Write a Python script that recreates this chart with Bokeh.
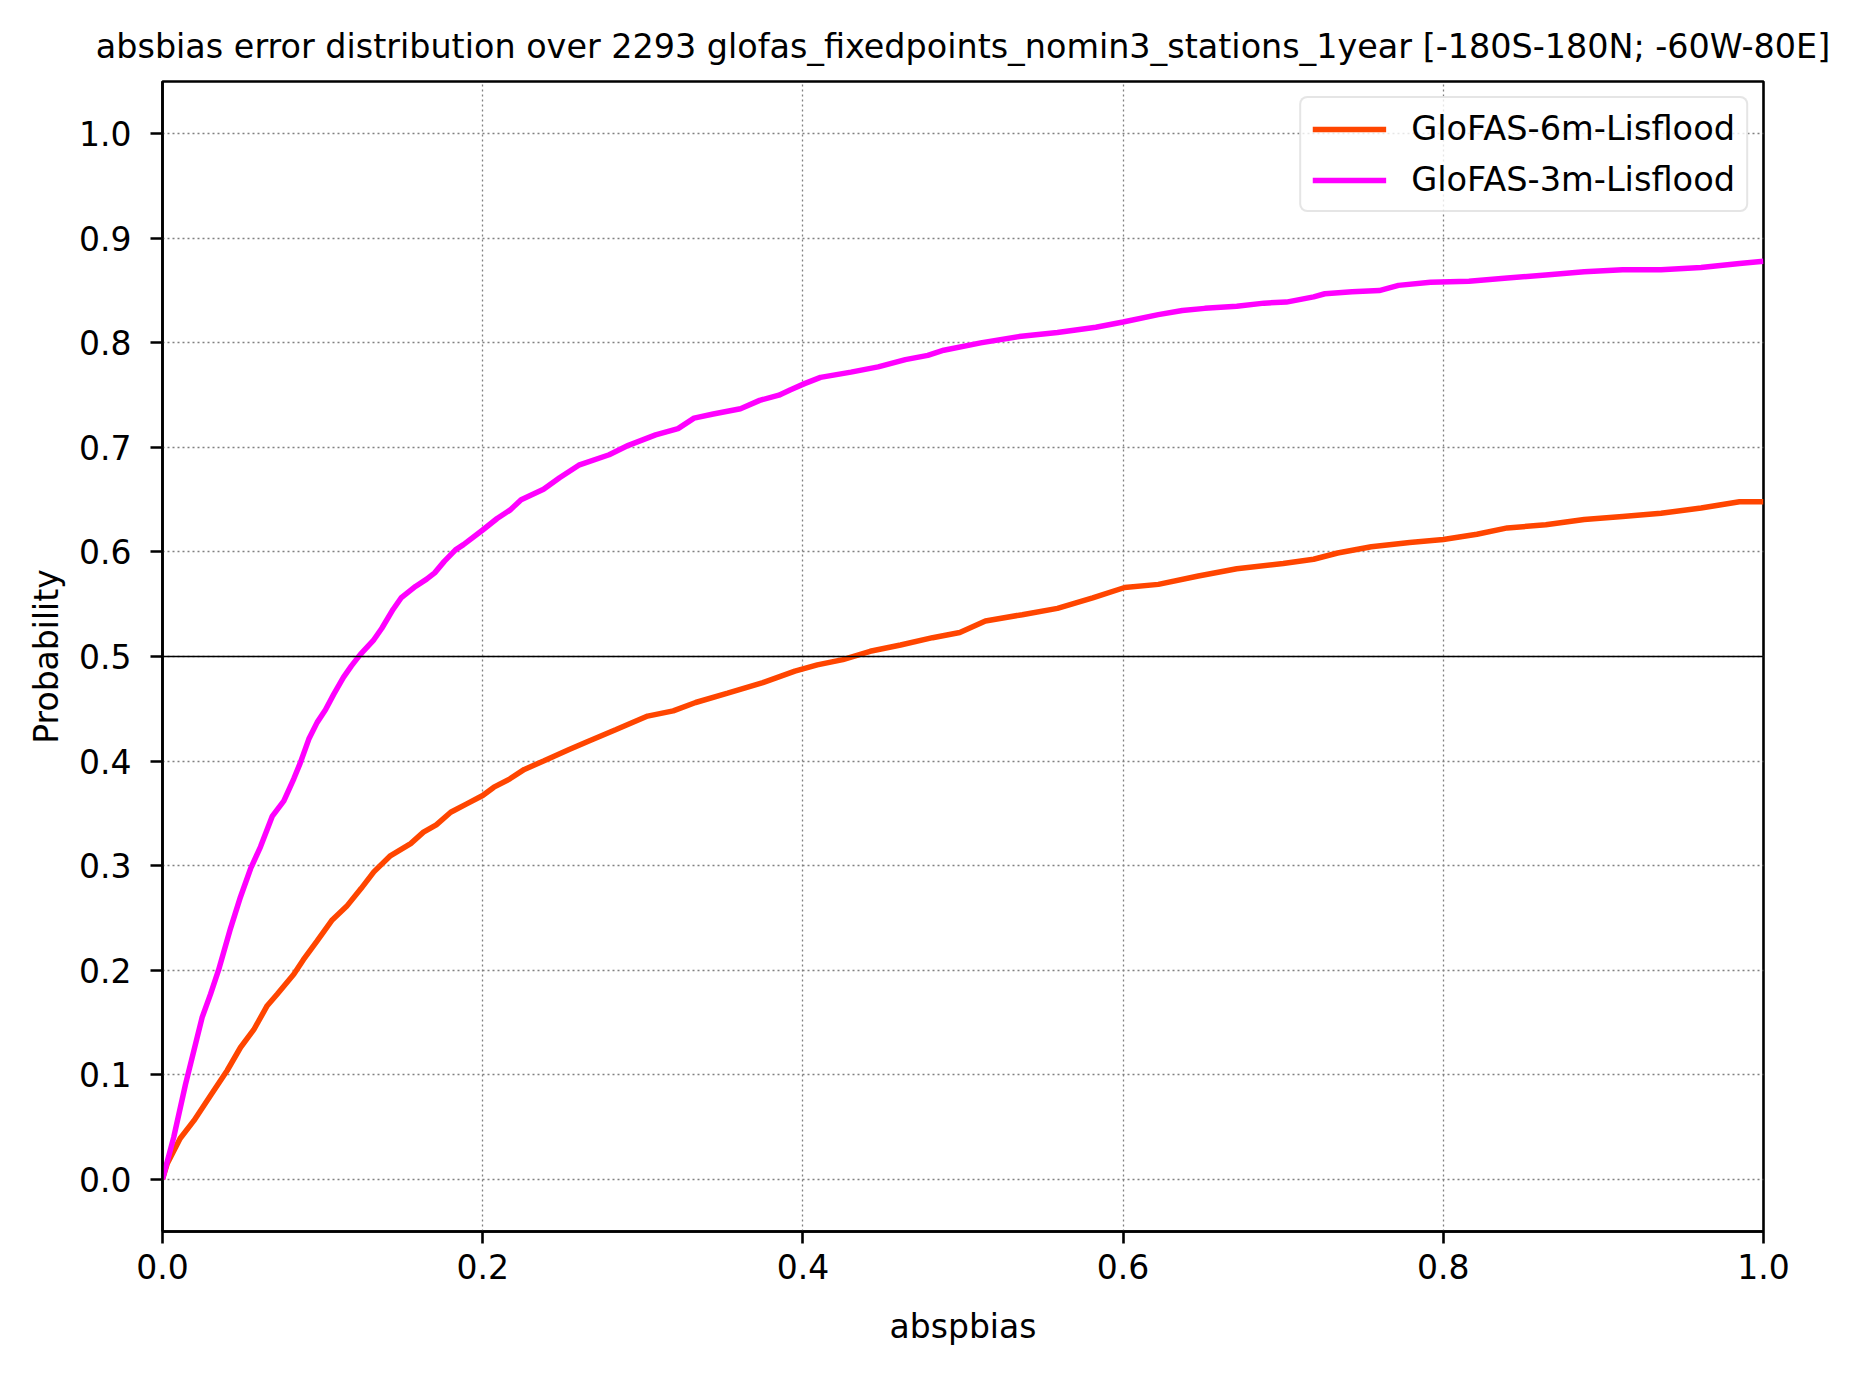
from bokeh.plotting import figure
from bokeh.models import Range1d, FixedTicker, Legend, LegendItem, Span, Title
from bokeh.embed import file_html
from bokeh.resources import INLINE

# ---------------- data ----------------
title_text = "absbias error distribution over 2293 glofas_fixedpoints_nomin3_stations_1year [-180S-180N; -60W-80E]"
x_label = "abspbias"
y_label = "Probability"

series_names = ["GloFAS-6m-Lisflood", "GloFAS-3m-Lisflood"]
series_colors = ["#FF4500", "#FF00FF"]

x_6m = [0, 0.003, 0.011, 0.0196, 0.030, 0.0404, 0.0487, 0.057, 0.0654, 0.0716,
        0.082, 0.088, 0.0966, 0.106, 0.115, 0.124, 0.132, 0.142, 0.155, 0.163,
        0.171, 0.180, 0.190, 0.200, 0.207, 0.217, 0.226, 0.238, 0.254, 0.266,
        0.283, 0.303, 0.319, 0.333, 0.353, 0.375, 0.395, 0.409, 0.425, 0.442,
        0.461, 0.481, 0.498, 0.514, 0.537, 0.559, 0.581, 0.601, 0.622, 0.647,
        0.671, 0.700, 0.719, 0.734, 0.755, 0.779, 0.800, 0.821, 0.840, 0.864,
        0.888, 0.912, 0.936, 0.961, 0.985, 1.0]
y_6m = [0, 0.015, 0.039, 0.056, 0.080, 0.104, 0.126, 0.143, 0.166, 0.177,
        0.196, 0.210, 0.228, 0.248, 0.261, 0.278, 0.294, 0.309, 0.321, 0.332,
        0.339, 0.351, 0.359, 0.367, 0.375, 0.383, 0.392, 0.400, 0.411, 0.419,
        0.430, 0.443, 0.448, 0.456, 0.465, 0.475, 0.486, 0.492, 0.497, 0.505,
        0.511, 0.518, 0.523, 0.534, 0.540, 0.546, 0.556, 0.566, 0.569, 0.577,
        0.584, 0.589, 0.593, 0.599, 0.605, 0.609, 0.612, 0.617, 0.623, 0.626,
        0.631, 0.634, 0.637, 0.642, 0.648, 0.648]

x_3m = [0, 0.007, 0.0144, 0.0196, 0.0248, 0.030, 0.035, 0.0425, 0.0487, 0.055,
        0.0612, 0.0685, 0.0758, 0.082, 0.086, 0.0914, 0.0966, 0.1018, 0.107, 0.113,
        0.118, 0.1236, 0.132, 0.137, 0.144, 0.149, 0.158, 0.165, 0.170, 0.176,
        0.183, 0.188, 0.200, 0.209, 0.217, 0.224, 0.238, 0.248, 0.260, 0.279,
        0.291, 0.308, 0.322, 0.332, 0.344, 0.361, 0.373, 0.385, 0.392, 0.401,
        0.411, 0.430, 0.447, 0.464, 0.478, 0.488, 0.511, 0.535, 0.559, 0.583,
        0.600, 0.622, 0.637, 0.651, 0.671, 0.688, 0.702, 0.719, 0.726, 0.743,
        0.760, 0.772, 0.792, 0.816, 0.840, 0.864, 0.888, 0.912, 0.936, 0.961,
        0.985, 1.0]
y_3m = [0, 0.040, 0.091, 0.123, 0.155, 0.177, 0.200, 0.240, 0.270, 0.297,
        0.318, 0.347, 0.362, 0.383, 0.398, 0.421, 0.437, 0.449, 0.464, 0.480,
        0.491, 0.502, 0.516, 0.527, 0.545, 0.556, 0.567, 0.574, 0.580, 0.591,
        0.602, 0.607, 0.621, 0.632, 0.640, 0.650, 0.660, 0.671, 0.683, 0.693,
        0.702, 0.712, 0.718, 0.728, 0.732, 0.737, 0.745, 0.750, 0.755, 0.761,
        0.767, 0.772, 0.777, 0.784, 0.788, 0.793, 0.800, 0.806, 0.810, 0.815,
        0.820, 0.827, 0.831, 0.833, 0.835, 0.838, 0.839, 0.844, 0.847, 0.849,
        0.850, 0.855, 0.858, 0.859, 0.862, 0.865, 0.868, 0.870, 0.870, 0.872,
        0.876, 0.878]

x_ticks = [0.0, 0.2, 0.4, 0.6, 0.8, 1.0]
x_tick_labels = ["0.0", "0.2", "0.4", "0.6", "0.8", "1.0"]
y_ticks = [0.0, 0.1, 0.2, 0.3, 0.4, 0.5, 0.6, 0.7, 0.8, 0.9, 1.0]
y_tick_labels = ["0.0", "0.1", "0.2", "0.3", "0.4", "0.5", "0.6", "0.7", "0.8", "0.9", "1.0"]
median_level = 0.5

# ---------------- styling ----------------
FONT = "DejaVu Sans"
FS = "33px"

p = figure(width=1843, height=1358, output_backend="svg", toolbar_location=None,
           x_range=Range1d(0, 1), y_range=Range1d(-0.05, 1.05),
           min_border_left=162, min_border_right=80, min_border_top=81, min_border_bottom=127)
p.background_fill_color = "white"
p.border_fill_color = "white"
p.outline_line_color = "black"
p.outline_line_width = 2.6

t = Title(text=title_text, align="center", text_font=FONT, text_font_size="33.4px",
          text_font_style="normal", text_color="black", standoff=32)
p.title = t

for ax in (p.xaxis[0], p.yaxis[0]):
    ax.axis_line_color = "black"
    ax.axis_line_width = 2.6
    ax.major_tick_line_width = 2.6
    ax.major_tick_line_color = "black"
    ax.major_tick_out = 12
    ax.major_tick_in = 0
    ax.minor_tick_line_color = None
    ax.major_label_text_font = FONT
    ax.major_label_text_font_size = FS
    ax.major_label_text_color = "black"
    ax.axis_label_text_font = FONT
    ax.axis_label_text_font_size = FS
    ax.axis_label_text_font_style = "normal"
    ax.axis_label_text_color = "black"

p.xaxis[0].major_label_standoff = 10
p.yaxis[0].major_label_standoff = 19
p.xaxis[0].ticker = FixedTicker(ticks=x_ticks)
p.xaxis[0].major_label_overrides = dict(zip(x_ticks, x_tick_labels))
p.yaxis[0].ticker = FixedTicker(ticks=y_ticks)
p.yaxis[0].major_label_overrides = dict(zip(y_ticks, y_tick_labels))
p.xaxis[0].axis_label = x_label
p.yaxis[0].axis_label = y_label
p.xaxis[0].axis_label_standoff = 25
p.yaxis[0].axis_label_standoff = 10

for g in (p.xgrid[0], p.ygrid[0]):
    g.grid_line_color = "#808080"
    g.grid_line_width = 1.3
    g.grid_line_dash = "2 3"

span = Span(location=median_level, dimension="width", line_color="black", line_width=1.6)
p.add_layout(span)

r6 = p.line(x_6m, y_6m, line_color=series_colors[0], line_width=5.5)
r3 = p.line(x_3m, y_3m, line_color=series_colors[1], line_width=5.5)

legend = Legend(items=[LegendItem(label=series_names[0], renderers=[r6]),
                       LegendItem(label=series_names[1], renderers=[r3])],
                location="top_right", margin=15, padding=11, spacing=12,
                glyph_width=74, glyph_height=36, label_height=36, label_standoff=25,
                label_text_font=FONT, label_text_font_size="33.6px", label_text_color="black",
                border_line_color="#cccccc", border_line_width=2.6,
                background_fill_color="white", background_fill_alpha=0.8)
try:
    legend.border_radius = 8
except Exception:
    pass
p.add_layout(legend)

open("out.html", "w").write(file_html(p, INLINE))
